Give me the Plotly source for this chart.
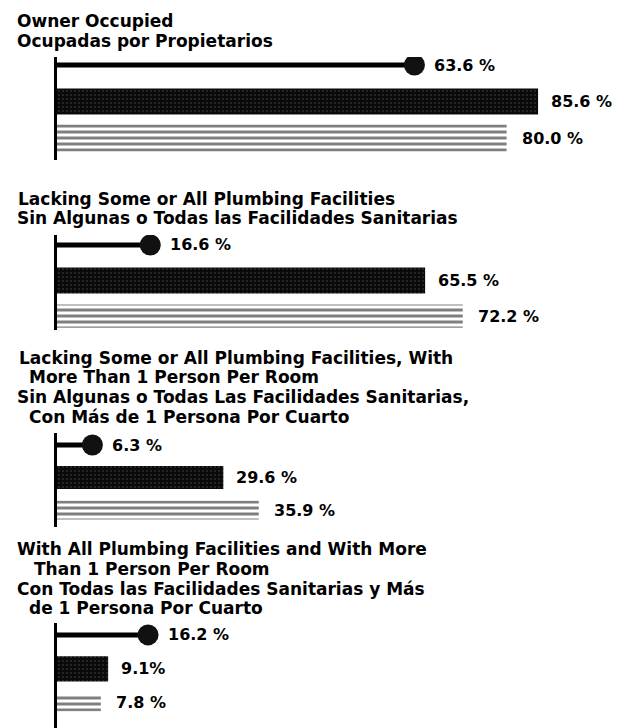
import plotly.graph_objects as go

# ---------------- data ----------------
group_titles = [
    ["Owner Occupied", "Ocupadas por Propietarios"],
    ["Lacking Some or All Plumbing Facilities",
     "Sin Algunas o Todas las Facilidades Sanitarias"],
    ["Lacking Some or All Plumbing Facilities, With",
     "More Than 1 Person Per Room",
     "Sin Algunas o Todas Las Facilidades Sanitarias,",
     "Con Más de 1 Persona Por Cuarto"],
    ["With All Plumbing Facilities and With More",
     "Than 1 Person Per Room",
     "Con Todas las Facilidades Sanitarias y Más",
     "de 1 Persona Por Cuarto"],
]
dot_values = [63.6, 16.6, 6.3, 16.2]
dark_values = [85.6, 65.5, 29.6, 9.1]
striped_values = [80.0, 72.2, 35.9, 7.8]
dot_labels = ["63.6 %", "16.6 %", "6.3 %", "16.2 %"]
dark_labels = ["85.6 %", "65.5 %", "29.6 %", "9.1%"]
striped_labels = ["80.0 %", "72.2 %", "35.9 %", "7.8 %"]

# ---------------- layout constants (pixels, in the reference frame) ----------------
OX, OY = 8, 8            # page body margin of the browser
W, H = 628 - OX, 728 - OY
ML, MR = 57 - OX, 9
FONT = "DejaVu Sans"

axis_top = [57, 235, 433, 623]
axis_bot = [160, 330, 527, 728]
y_ranges = [[2.60, -0.22], [2.39, -0.28], [2.52, -0.37], [2.74, -0.35]]
dark_w = [0.71, 0.73, 0.71, 0.74]
striped_w = [0.74, 0.65, 0.58, 0.50]
title_y = [[21, 41], [199, 218], [358, 377, 397, 417], [549, 569, 589, 608]]
title_x = [[15, 15], [16, 15], [17, 27, 15, 27], [15, 32, 15, 27]]

fig = go.Figure()
annotations = []

for g in range(4):
    n = "" if g == 0 else str(g + 1)
    xa, ya = "x" + n, "y" + n
    # lollipop
    fig.add_trace(go.Scatter(
        x=[0, dot_values[g]], y=[0, 0], mode="lines",
        line=dict(color="black", width=5), xaxis=xa, yaxis=ya,
        hoverinfo="skip", showlegend=False))
    fig.add_trace(go.Scatter(
        x=[dot_values[g]], y=[0], mode="markers",
        marker=dict(color="#111111", size=21, line=dict(width=0)),
        xaxis=xa, yaxis=ya, hoverinfo="skip", showlegend=False))
    # dark stippled bar
    fig.add_trace(go.Bar(
        x=[dark_values[g]], y=[1], orientation="h", width=dark_w[g],
        marker=dict(color="#0a0a0a", line=dict(width=0),
                    pattern=dict(shape=".", fgcolor="#8a8a8a", size=4, solidity=0.12)),
        xaxis=xa, yaxis=ya, hoverinfo="skip", showlegend=False))
    # striped bar
    fig.add_trace(go.Bar(
        x=[striped_values[g]], y=[2], orientation="h", width=striped_w[g],
        marker=dict(color="white", line=dict(width=0),
                    pattern=dict(shape="-", fgcolor="black", bgcolor="white",
                                 size=6, solidity=0.5)),
        xaxis=xa, yaxis=ya, hoverinfo="skip", showlegend=False))

    # value labels
    for val, lab, yy, shift in [(dot_values[g], dot_labels[g], 0, 18),
                                (dark_values[g], dark_labels[g], 1, 11),
                                (striped_values[g], striped_labels[g], 2, 13)]:
        annotations.append(dict(
            x=val, y=yy, xref=xa, yref=ya, text="<b>" + lab + "</b>", showarrow=False,
            xanchor="left", yanchor="middle", xshift=shift,
            font=dict(family=FONT, size=16, color="black")))

    # group titles
    for line, ty, tx in zip(group_titles[g], title_y[g], title_x[g]):
        annotations.append(dict(
            x=0, y=1 - (ty - OY) / H, xref="paper", yref="paper",
            text="<b>" + line + "</b>",
            showarrow=False, xanchor="left", yanchor="middle", xshift=(tx - OX) - ML,
            font=dict(family=FONT, size=17, color="black")))

    fig.layout["xaxis" + n] = dict(
        range=[0, 100], visible=False, anchor=ya, domain=[0, 1], fixedrange=True)
    fig.layout["yaxis" + n] = dict(
        range=y_ranges[g], anchor=xa,
        domain=[max(0, 1 - (axis_bot[g] - OY) / H), 1 - (axis_top[g] - OY) / H],
        showline=True, linewidth=3, linecolor="black", showticklabels=False,
        ticks="", showgrid=False, zeroline=False, fixedrange=True)

fig.update_layout(
    width=W, height=H,
    margin=dict(l=ML, r=MR, t=0, b=0),
    paper_bgcolor="white", plot_bgcolor="white",
    barmode="overlay", annotations=annotations, showlegend=False,
    font=dict(family=FONT, color="black"),
)

fig.write_html("out.html")
